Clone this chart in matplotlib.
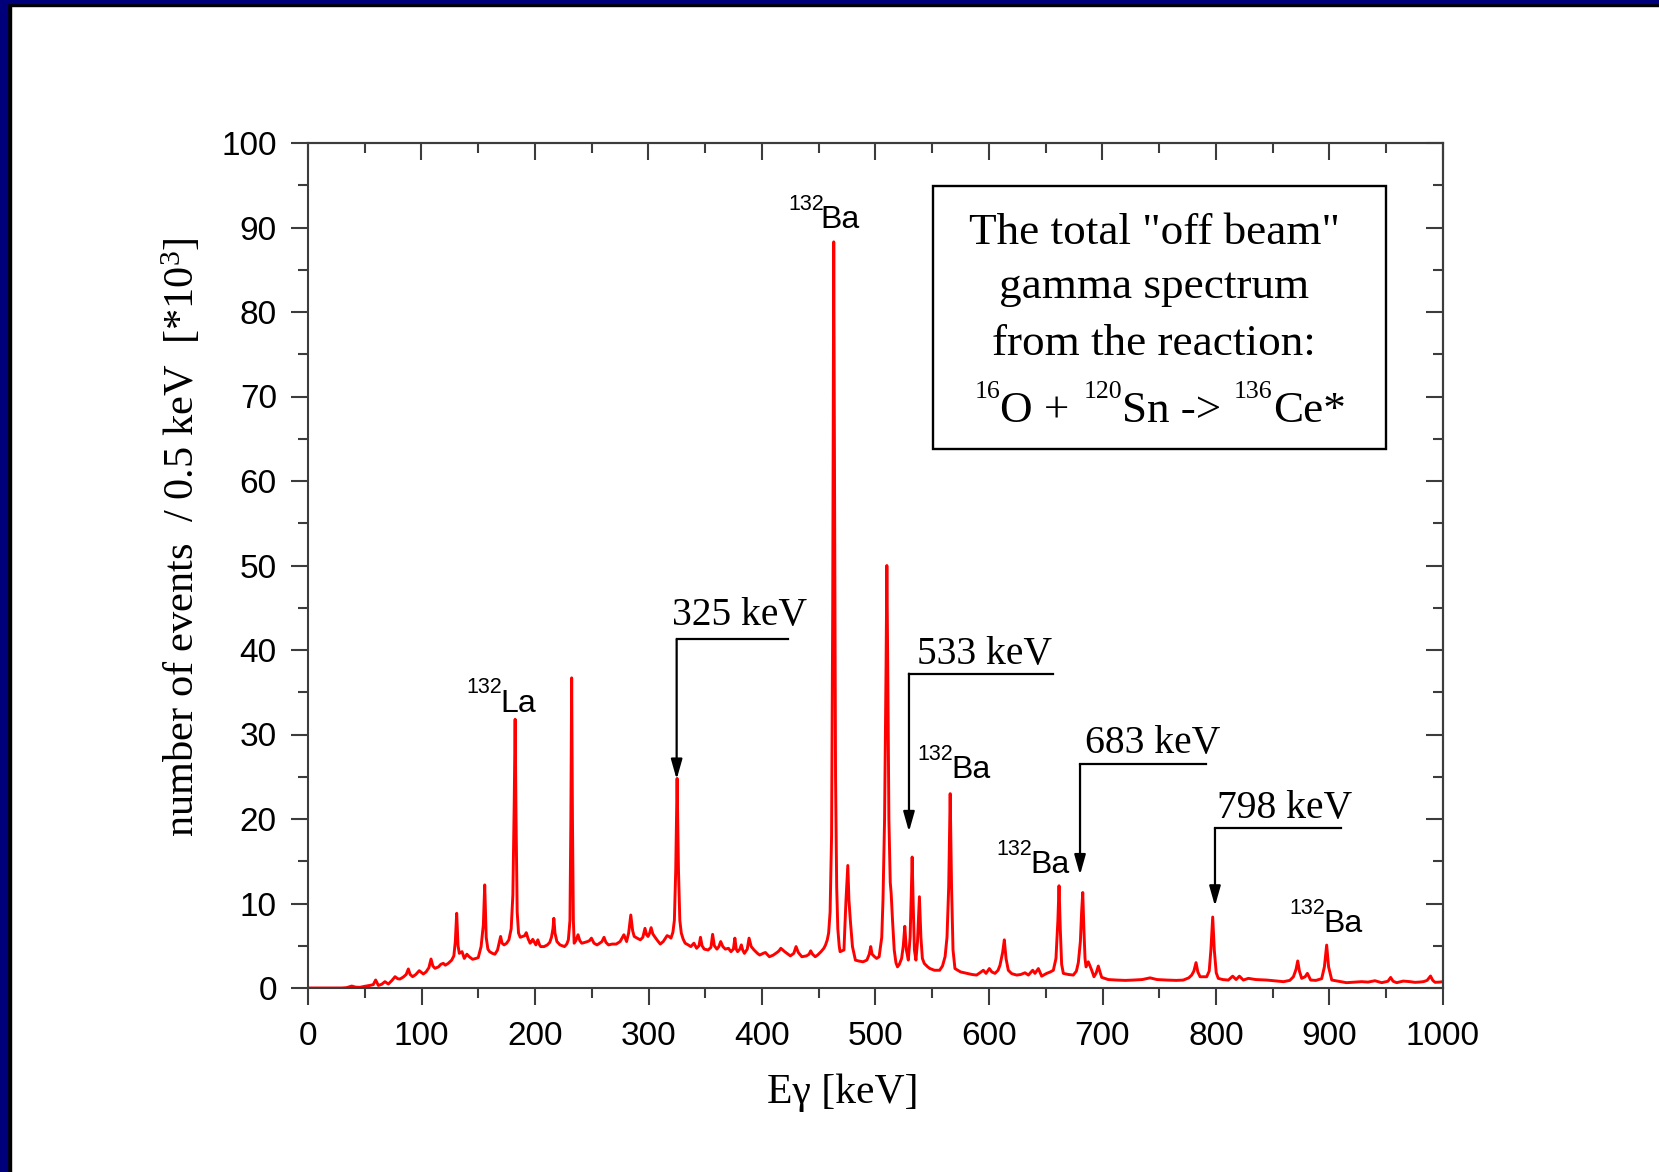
import matplotlib
matplotlib.use('Agg')
import matplotlib.pyplot as plt
from matplotlib.patches import Rectangle
from matplotlib.ticker import MultipleLocator

plt.rcParams['mathtext.default'] = 'regular'

# spectrum (keV, counts in 10^3 per 0.5 keV)
energy = [0, 30, 34, 38.5, 42, 45.8, 50, 54.6, 57.5, 59.6, 62, 65, 67.8, 70.8, 74, 76.7, 79, 81,
          84, 86.5, 88.4, 90, 92.2, 95, 98, 101.6, 104, 106.5, 108.4, 110, 111.9, 115, 117, 119.2,
          121, 123.6, 126.6, 128.5, 129.8, 131, 132.2, 133.3, 135.7, 137.7, 140, 142, 145, 148, 150,
          152.5, 154.5, 155.7, 157, 158.5, 160, 162.5, 164.7, 167, 169.7, 171, 172.8, 175, 177, 179,
          180.5, 181.7, 182.5, 183.3, 184.3, 185.5, 187, 189, 191, 192.3, 194, 195.7, 197, 198, 199.5,
          200.8, 202.5, 204, 205, 208, 210.9, 213, 214.5, 215.8, 216.6, 217.6, 219.3, 222, 226, 228,
          229.4, 230.8, 231.6, 232.3, 233.0, 233.8, 234.5, 236, 237.9, 239.5, 241.2, 244, 246.3, 248,
          249.7, 252, 254.7, 257, 259, 260.8, 262.5, 264.8, 268, 271.6, 275, 278.3, 280.7, 282.5,
          284.4, 286, 287.4, 290, 292.8, 295, 296.9, 298.3, 299.6, 301, 302.3, 303.8, 305.3, 308,
          310.4, 313, 316.4, 318, 319.8, 321.5, 322.8, 324, 325.2, 326.4, 327.6, 328.9, 330.5, 332.3,
          335, 337.3, 340, 342.4, 344.5, 345.8, 347.2, 349.1, 352.5, 355, 356.5, 358, 360.3, 362,
          363.6, 365.5, 367.7, 370.4, 372.7, 374.8, 376.1, 377.3, 378.5, 380.5, 381.8, 383, 384.5,
          387, 388.6, 390.5, 393, 396, 398, 401, 403, 406.5, 410, 413.2, 415, 416.6, 420, 422, 425,
          428, 430, 432, 435.1, 439.2, 441.5, 442.9, 444.5, 446.9, 449, 452, 454.5, 456, 457.5,
          458.7, 460, 461.3, 462.3, 463.2, 464.0, 464.8, 465.8, 466.8, 468, 468.8, 470.5, 472.2,
          474, 475.6, 476.6, 478, 479.7, 482.3, 485, 489, 492.4, 494.5, 495.8, 497, 499.2, 501,
          503.2, 505.5, 506.6, 508, 509.3, 510, 510.8, 511.8, 513.0, 513.8, 515, 516.5, 518, 519.4,
          521, 523, 524.5, 525.8, 527.2, 528.9, 530.5, 531.5, 532.3, 533.2, 534.3, 535.6, 537,
          538.7, 540, 541.3, 543, 546, 548, 552, 556.5, 559, 561.3, 563, 564.5, 565.8, 567, 568.3,
          570, 575, 580.3, 585, 589, 592, 595, 597.4, 600.3, 602.5, 605.3, 608, 609.7, 612, 613.5,
          615, 617, 620, 624.4, 628, 631.7, 634.7, 638.5, 640.5, 643.5, 646.4, 650.8, 654, 656.7,
          659, 660.7, 661.7, 662.8, 664, 665.5, 670, 674.3, 677, 678.7, 680.5, 681.6, 682.6, 683.6,
          684.6, 685.5, 687.5, 690.5, 692.5, 694.5, 696.3, 698, 699.3, 705, 712.5, 720, 727.2, 735,
          741.9, 748, 756.6, 765, 771.2, 776, 778.6, 780.5, 782.4, 784, 786, 791.8, 794, 795.5,
          797.1, 798.5, 800.2, 802, 806, 810.9, 814.7, 817.7, 820.6, 824.1, 828.5, 835, 844.7, 852,
          859.4, 865, 868.2, 870.5, 872, 873.5, 875.5, 878.5, 880.5, 883.4, 888, 893.1, 895.5,
          897.5, 899.2, 902, 908, 915, 922, 928.3, 934, 940, 946, 951.5, 953.9, 956, 959.2, 965,
          971, 975.3, 979, 982.7, 986, 989, 991, 993, 997, 1000]
counts = [0, 0, 0.04, 0.23, 0.1, 0.08, 0.2, 0.31, 0.4, 0.95, 0.3, 0.45, 0.75, 0.47, 0.9, 1.34, 1.1, 1.06,
          1.3, 1.6, 2.25, 1.6, 1.34, 1.6, 2.05, 1.66, 1.9, 2.4, 3.43, 2.6, 2.33, 2.5, 2.8, 2.92,
          2.7, 2.92, 3.3, 3.8, 5.5, 8.84, 5.0, 4.1, 4.3, 3.5, 4.0, 3.7, 3.4, 3.5, 3.6,
          4.9, 7.5, 12.2, 6.0, 4.6, 4.3, 4.1, 4.0, 4.5, 6.1, 5.3, 5.1, 5.3, 5.7, 7.0,
          11, 22, 31.8, 20, 9, 6.5, 6.0, 6.1, 6.2, 6.55, 5.8, 5.3, 5.5, 5.76, 5.4,
          5.1, 5.7, 5.1, 4.9, 4.9, 5.1, 5.4, 6.0, 7.0, 8.25, 6.5, 5.5, 5.1, 4.9, 5.2,
          5.7, 8, 20, 36.7, 20, 8, 5.3, 5.6, 6.3, 5.6, 5.3, 5.4, 5.5, 5.6,
          5.9, 5.3, 5.1, 5.3, 5.5, 6.0, 5.4, 5.1, 5.2, 5.2, 5.5, 6.3, 5.5, 6.5,
          8.64, 6.8, 6.1, 5.9, 5.7, 6.0, 7.06, 6.3, 6.1, 6.5, 7.14, 6.4, 6.1, 5.6,
          5.2, 5.5, 6.2, 6.1, 5.9, 6.6, 8.0, 14, 24.8, 14, 8.0, 6.5, 5.8, 5.3,
          5.1, 4.9, 5.3, 4.7, 5.0, 6.0, 5.0, 4.6, 4.5, 4.8, 6.35, 5.0, 4.6, 4.9,
          5.5, 4.9, 4.6, 4.7, 4.3, 4.6, 5.9, 4.6, 4.3, 4.6, 5.1, 4.5, 4.1,
          4.6, 5.9, 4.9, 4.5, 4.1, 3.9, 4.1, 4.2, 3.7, 3.9, 4.2, 4.4, 4.7, 4.3, 4.1, 3.8,
          4.1, 4.9, 4.2, 3.7, 3.8, 4.0, 4.4, 4.0, 3.7, 3.9, 4.3, 4.7, 5.1, 5.7,
          6.5, 9, 18, 45, 88.3, 55, 25, 12, 7, 5, 4.3, 4.4, 4.5,
          10.4, 14.5, 10.4, 7.7, 4.9, 3.3, 3.2, 3.1, 3.3, 4.0, 4.9, 4.0, 3.7, 3.5,
          3.7, 6.0, 10.4, 20, 38, 50.0, 38, 20, 12.5, 11.2, 8, 4.5, 3.0, 2.5,
          2.8, 3.5, 5.0, 7.3, 4.5, 3.3, 6.0, 11, 15.5, 10, 4.5, 3.3, 5.5,
          10.8, 6.0, 3.5, 2.9, 2.5, 2.3, 2.1, 2.1, 2.6, 3.7, 6.0, 12, 23.0, 12, 4.5,
          2.3, 1.9, 1.74, 1.6, 1.53, 1.8, 2.1, 1.73, 2.3, 1.9, 1.73, 2.1, 2.7, 4.2, 5.7,
          3.5, 2.1, 1.7, 1.53, 1.6, 1.8, 1.53, 2.1, 1.73, 2.3, 1.4, 1.73, 1.9, 2.1,
          3.5, 8, 12.1, 7, 2.8, 1.73, 1.6, 1.53, 2.0, 3.0, 5.5, 9, 11.3, 7,
          3.5, 2.5, 3.1, 2.1, 1.33, 1.8, 2.6, 1.8, 1.26, 1.0, 0.94, 0.9, 0.94, 1.0,
          1.2, 1.0, 0.94, 0.9, 0.94, 1.2, 1.53, 2.0, 3.0, 1.9, 1.33, 1.33, 2.0, 4.5,
          8.4, 4.5, 1.8, 1.14, 1.0, 0.94, 1.4, 1.0, 1.4, 0.94, 1.14, 1.0, 0.94, 0.85,
          0.75, 0.9, 1.33, 2.2, 3.2, 2.0, 1.14, 1.33, 1.73, 0.94, 0.9, 1.1, 2.5,
          5.08, 2.5, 0.94, 0.8, 0.63, 0.7, 0.75, 0.7, 0.86, 0.63, 0.8, 1.25, 0.8, 0.63, 0.82,
          0.75, 0.67, 0.7, 0.75, 0.9, 1.42, 0.9, 0.67, 0.7, 0.75]

# marked transitions: label, text position, bracket, arrow tip
line_labels = ['325 keV', '533 keV', '683 keV', '798 keV']
line_text_x = [320.4, 536.3, 684.6, 800.6]
line_text_y = [43.0, 38.4, 27.8, 20.1]
bracket_x0 = [324.8, 529.5, 680.2, 799.1]
bracket_x1 = [422.6, 656.0, 790.9, 909.8]
bracket_y = [41.3, 37.2, 26.5, 18.9]
arrow_tip_y = [24.7, 18.5, 13.4, 9.7]

# isotope labels (mass number as superscript, then element)
iso_mass = ['132', '132', '132', '132', '132']
iso_elem = ['La', 'Ba', 'Ba', 'Ba', 'Ba']
iso_mass_x = [139.2, 423.2, 536.8, 606.8, 864.3]
iso_elem_x = [169.2, 451.7, 567.1, 636.7, 894.5]
iso_y = [32.7, 89.9, 24.8, 13.6, 6.6]

box_lines = ['The total "off beam"', 'gamma spectrum', 'from the reaction:']
box_line_y = [88.0, 81.7, 74.9]
eq_parts = ['16', 'O +', '120', 'Sn ->', '136', 'Ce*']
eq_x = [587.7, 609.7, 683.1, 716.9, 815.2, 850.5]
eq_sup = [True, False, True, False, True, False]
eq_y = 67.0

W, H = 1659, 1172
fig = plt.figure(figsize=(W / 100, H / 100), dpi=100)
ax = fig.add_axes([308 / W, 1 - 988 / H, (1443 - 308) / W, (988 - 143) / H])

axcol = '#3c3c3c'
sans = 'Liberation Sans'
serif = 'Liberation Serif'

ax.plot(energy, counts, color='#ff0000', lw=2.1)
ax.set_xlim(0, 1000)
ax.set_ylim(0, 100)

for s in ax.spines.values():
    s.set_color(axcol)
    s.set_linewidth(1.5)

ax.xaxis.set_major_locator(MultipleLocator(100))
ax.xaxis.set_minor_locator(MultipleLocator(50))
ax.yaxis.set_major_locator(MultipleLocator(10))
ax.yaxis.set_minor_locator(MultipleLocator(5))
ax.tick_params(which='both', direction='out', top=False, right=False, color=axcol, width=1.5)
ax.tick_params(which='major', length=12.5)
ax.tick_params(which='minor', length=7)
ax.tick_params(axis='x', pad=11.5)
ax.tick_params(axis='y', pad=10)
for lab in ax.get_xticklabels() + ax.get_yticklabels():
    lab.set_fontfamily(sans)
    lab.set_fontsize(24)

# top and right ticks point inward
top = ax.secondary_xaxis('top')
top.xaxis.set_major_locator(MultipleLocator(100))
top.xaxis.set_minor_locator(MultipleLocator(50))
top.tick_params(which='both', direction='in', labeltop=False, color=axcol, width=1.5)
top.tick_params(which='major', length=12.5)
top.tick_params(which='minor', length=7)
right = ax.secondary_yaxis('right')
right.yaxis.set_major_locator(MultipleLocator(10))
right.yaxis.set_minor_locator(MultipleLocator(5))
right.tick_params(which='both', direction='in', labelright=False, color=axcol, width=1.5)
right.tick_params(which='major', length=12.5)
right.tick_params(which='minor', length=7)
for sec in (top, right):
    for s in sec.spines.values():
        s.set_color(axcol)
        s.set_linewidth(1.5)

# transition markers
for i in range(len(line_labels)):
    ax.plot([bracket_x1[i], bracket_x0[i]], [bracket_y[i], bracket_y[i]], color='black', lw=1.6)
    ax.annotate('', xy=(bracket_x0[i], arrow_tip_y[i]), xytext=(bracket_x0[i], bracket_y[i]),
                arrowprops=dict(arrowstyle='-|>,head_length=12,head_width=3.4', mutation_scale=1,
                                color='black', lw=1.6, shrinkA=0, shrinkB=0))
    ax.text(line_text_x[i], line_text_y[i], line_labels[i], fontfamily=serif, fontsize=28.5,
            ha='left', va='baseline')

for i in range(len(iso_elem)):
    ax.annotate(iso_mass[i], xy=(iso_mass_x[i], iso_y[i]), xytext=(0, 13.2),
                textcoords='offset points', fontfamily=sans, fontsize=15.5,
                ha='left', va='baseline')
    ax.text(iso_elem_x[i], iso_y[i], iso_elem[i], fontfamily=sans, fontsize=23,
            ha='left', va='baseline')

# reaction box
ax.add_patch(Rectangle((550.4, 63.8), 949.5 - 550.4, 94.9 - 63.8, fill=False,
                       edgecolor='black', lw=1.7))
for txt, yy in zip(box_lines, box_line_y):
    ax.text(745.5, yy, txt, fontfamily=serif, fontsize=32.5, ha='center', va='baseline')
for txt, xx, sup in zip(eq_parts, eq_x, eq_sup):
    if sup:
        ax.annotate(txt, xy=(xx, eq_y), xytext=(0, 17.3), textcoords='offset points',
                    fontfamily=serif, fontsize=18.5, ha='left', va='baseline')
    else:
        ax.text(xx, eq_y, txt, fontfamily=serif, fontsize=32.5, ha='left', va='baseline')

fig.text(843 / W, 1 - 1103 / H, 'E\u03b3 [keV]', fontfamily=serif, fontsize=30,
         ha='center', va='baseline')
fig.text(182 / W, 1 - 537 / H, 'number of events  / 0.5 keV  [*10$^3$]', fontfamily=serif,
         fontsize=30.5, rotation=90, ha='center', va='center')

# slide frame on left and top edges
fig.add_artist(Rectangle((0, 0), 11 / W, 1, transform=fig.transFigure, color='black'))
fig.add_artist(Rectangle((0, 1 - 6 / H), 1, 6 / H, transform=fig.transFigure, color='black'))
fig.add_artist(Rectangle((0, 0), 7 / W, 1, transform=fig.transFigure, color='#00007a'))
fig.add_artist(Rectangle((0, 1 - 3 / H), 1, 3 / H, transform=fig.transFigure, color='#00007a'))

fig.savefig('out.png', dpi=100)
